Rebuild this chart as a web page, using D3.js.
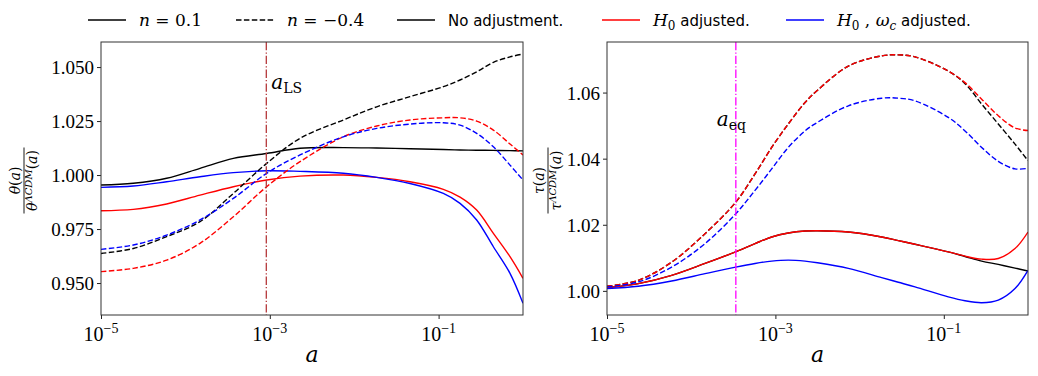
<!DOCTYPE html>
<html><head><meta charset="utf-8">
<script src="https://cdn.jsdelivr.net/npm/d3@7"></script>
<style>
body{margin:0;background:#fff;}
svg{display:block;}
</style></head>
<body>
<svg id="chart" width="1038" height="376"></svg>
<script>
// ---------- DATA ----------
// log10(a) sample positions
const logA_theta = [-5, -4.617, -4.222, -3.827, -3.432, -3.037, -2.642, -2.129, -1.733, -1.339, -0.944, -0.746, -0.549, -0.351, -0.154, 0];
// theta(a)/theta_LCDM(a)
const theta_n01_none = [0.9954, 0.9962, 0.9985, 1.0031, 1.0077, 1.0100, 1.0124, 1.0127, 1.0125, 1.0122, 1.0118, 1.0116, 1.0115, 1.0114, 1.0113, 1.0112];
const theta_n01_H0   = [0.9835, 0.9841, 0.9866, 0.9907, 0.9946, 0.9977, 0.9995, 1.0000, 0.9989, 0.9969, 0.9934, 0.9898, 0.9838, 0.9730, 0.9622, 0.9522];
const theta_n01_H0wc = [0.9943, 0.9949, 0.9969, 0.9992, 1.0011, 1.0020, 1.0017, 1.0008, 0.9989, 0.9961, 0.9915, 0.9869, 0.9792, 0.9668, 0.9545, 0.9406];
const theta_n04_none = [0.9637, 0.9660, 0.9715, 0.9784, 0.9915, 1.0054, 1.0170, 1.0255, 1.0316, 1.0363, 1.0409, 1.0440, 1.0478, 1.0522, 1.0547, 1.0560];
const theta_n04_H0   = [0.9553, 0.9568, 0.9606, 0.9684, 0.9807, 0.9946, 1.0062, 1.0177, 1.0227, 1.0255, 1.0265, 1.0265, 1.0250, 1.0208, 1.0144, 1.0093];
const theta_n04_H0wc = [0.9656, 0.9676, 0.9722, 0.9792, 0.9892, 1.0008, 1.0093, 1.0177, 1.0216, 1.0236, 1.0242, 1.0231, 1.0193, 1.0131, 1.0046, 0.9977];

const logA_tau = [-5, -4.628, -4.232, -3.836, -3.472, -3.242, -3.044, -2.847, -2.648, -2.5, -2.134, -1.738, -1.54, -1.342, -0.947, -0.748, -0.55, -0.353, -0.154, 0];
// tau(a)/tau_LCDM(a)
const tau_n01_none = [1.0010, 1.0022, 1.0047, 1.0083, 1.0118, 1.0143, 1.0163, 1.0175, 1.0181, 1.0182, 1.0178, 1.0163, 1.0152, 1.0141, 1.0118, 1.0104, 1.0090, 1.0080, 1.0069, 1.0060];
const tau_n01_H0   = [1.0010, 1.0022, 1.0047, 1.0083, 1.0118, 1.0143, 1.0163, 1.0175, 1.0181, 1.0182, 1.0178, 1.0163, 1.0152, 1.0141, 1.0118, 1.0105, 1.0096, 1.0098, 1.0128, 1.0178];
const tau_n01_H0wc = [1.0007, 1.0014, 1.0030, 1.0052, 1.0072, 1.0083, 1.0090, 1.0093, 1.0090, 1.0085, 1.0068, 1.0040, 1.0026, 1.0012, 0.9982, 0.9970, 0.9964, 0.9972, 1.0007, 1.0062];
const tau_n04_none = [1.0014, 1.0032, 1.0087, 1.0173, 1.0268, 1.0354, 1.0434, 1.0505, 1.0570, 1.0607, 1.0680, 1.0711, 1.0714, 1.0708, 1.0665, 1.0627, 1.0565, 1.0505, 1.0444, 1.0394];
const tau_n04_H0   = [1.0014, 1.0032, 1.0087, 1.0173, 1.0268, 1.0354, 1.0434, 1.0505, 1.0570, 1.0607, 1.0680, 1.0711, 1.0714, 1.0708, 1.0665, 1.0630, 1.0580, 1.0530, 1.0493, 1.0485];
const tau_n04_H0wc = [1.0012, 1.0027, 1.0072, 1.0143, 1.0233, 1.0304, 1.0369, 1.0434, 1.0484, 1.0510, 1.0560, 1.0583, 1.0583, 1.0575, 1.0525, 1.0484, 1.0434, 1.0392, 1.0369, 1.0371];

const xTicks = [1e-5, 1e-3, 1e-1];
const xTickExp = ["−5", "−3", "−1"];
const thetaTicks = [0.950, 0.975, 1.000, 1.025, 1.050];
const tauTicks = [1.00, 1.02, 1.04, 1.06];
const aLS = 1 / 1100;
const aEq = 1 / 2950;

const legendItems = [
  {label: "n01", color: "#000", dash: null},
  {label: "n04", color: "#000", dash: "5.5,2.4"},
  {label: "No adjustment.", color: "#000", dash: null},
  {label: "H0", color: "#ff0000", dash: null},
  {label: "H0wc", color: "#0000ff", dash: null}
];

// ---------- DRAW ----------
const svg = d3.select("#chart");
const serif = '"DejaVu Serif","Liberation Serif",serif';
const tickFont = '"Liberation Serif","DejaVu Serif",serif';
const sans = '"DejaVu Sans",sans-serif';
const DASH = "5.5,2.4";

function panel(cfg) {
  const x = d3.scaleLog().domain([1e-5, 1]).range([cfg.x0, cfg.x1]);
  const y = d3.scaleLinear().domain(cfg.yDomain).range([cfg.y1, cfg.y0]);
  const g = svg.append("g");
  const line = d3.line().x(d => x(Math.pow(10, d[0]))).y(d => y(d[1])).curve(d3.curveCatmullRom.alpha(0.5));
  const clipId = "clip" + cfg.id;
  svg.append("clipPath").attr("id", clipId).append("rect")
    .attr("x", cfg.x0).attr("y", cfg.y0).attr("width", cfg.x1 - cfg.x0).attr("height", cfg.y1 - cfg.y0);
  const plot = g.append("g").attr("clip-path", `url(#${clipId})`);
  cfg.series.forEach(s => {
    plot.append("path").datum(cfg.logA.map((l, i) => [l, s.values[i]]))
      .attr("d", line).attr("fill", "none").attr("stroke", s.color)
      .attr("stroke-width", 1.4).attr("stroke-dasharray", s.dash ? DASH : null);
  });
  // vertical marker
  plot.append("line").attr("x1", x(cfg.vline)).attr("x2", x(cfg.vline))
    .attr("y1", cfg.y0).attr("y2", cfg.y1).attr("stroke", cfg.vcolor).attr("stroke-width", 1.3)
    .attr("stroke-dasharray", "8.3,2.1,1.3,2.1");
  const vt = g.append("text").attr("x", x(cfg.vline) + cfg.vdx).attr("y", cfg.vy)
    .attr("font-family", serif).attr("font-size", 20);
  vt.append("tspan").attr("font-style", "italic").text("a");
  vt.append("tspan").attr("font-size", 14).attr("dy", 4).text(cfg.vsub);

  // axes
  const xa = d3.axisBottom(x).tickValues(xTicks).tickSize(4).tickFormat("");
  const xg = g.append("g").attr("transform", `translate(0,${cfg.y1})`).call(xa);
  xg.select(".domain").remove();
  xg.selectAll("line").attr("stroke", "#222");
  xTicks.forEach((t, i) => {
    const tx = g.append("text").attr("x", x(t)).attr("y", cfg.y1 + 26).attr("text-anchor", "middle")
      .attr("font-family", tickFont).attr("font-size", 20);
    tx.append("tspan").text("10");
    tx.append("tspan").attr("font-size", 14).attr("dy", -8).text(xTickExp[i]);
  });
  const ya = d3.axisLeft(y).tickValues(cfg.yTicks).tickSize(4).tickFormat(d3.format(cfg.yFmt));
  const yg = g.append("g").attr("transform", `translate(${cfg.x0},0)`).call(ya);
  yg.select(".domain").remove();
  yg.selectAll("line").attr("stroke", "#222");
  yg.selectAll("text").attr("font-family", tickFont).attr("font-size", 19).attr("fill", "#000").attr("dy", "0.36em").attr("x", -7);
  g.append("rect").attr("x", cfg.x0).attr("y", cfg.y0).attr("width", cfg.x1 - cfg.x0).attr("height", cfg.y1 - cfg.y0)
    .attr("fill", "none").attr("stroke", "#333").attr("stroke-width", 1);
  // x label
  g.append("text").attr("x", (cfg.x0 + cfg.x1) / 2).attr("y", 362).attr("text-anchor", "middle")
    .attr("font-family", serif).attr("font-style", "italic").attr("font-size", 22).text("a");
  // y label fraction
  const yl = g.append("g").attr("transform", `translate(${cfg.ylx},${(cfg.y0 + cfg.y1) / 2 + 2}) rotate(-90)`);
  const num = yl.append("text").attr("x", 0).attr("y", -4).attr("text-anchor", "middle")
    .attr("font-family", serif).attr("font-size", 14);
  num.append("tspan").attr("font-style", "italic").text(cfg.sym);
  num.append("tspan").text("(");
  num.append("tspan").attr("font-style", "italic").text("a");
  num.append("tspan").text(")");
  yl.append("line").attr("x1", -33).attr("x2", 33).attr("y1", 0).attr("y2", 0).attr("stroke", "#000").attr("stroke-width", 0.9);
  const den = yl.append("text").attr("x", 0).attr("y", 13).attr("text-anchor", "middle")
    .attr("font-family", serif).attr("font-size", 14);
  den.append("tspan").attr("font-style", "italic").text(cfg.sym);
  den.append("tspan").attr("font-style", "italic").attr("font-size", 10).attr("dy", -5).text("ΛCDM");
  den.append("tspan").attr("dy", 5).text("(");
  den.append("tspan").attr("font-style", "italic").text("a");
  den.append("tspan").text(")");
}

panel({
  id: "L", x0: 101, x1: 523, y0: 42, y1: 315, yDomain: [0.9352, 1.0616], yTicks: thetaTicks, yFmt: ".3f",
  logA: logA_theta, vline: aLS, vcolor: "#b5383a", vdx: 5, vy: 89, vsub: "LS", ylx: 24, sym: "θ",
  series: [
    {values: theta_n01_none, color: "#000", dash: false},
    {values: theta_n01_H0, color: "#ff0000", dash: false},
    {values: theta_n01_H0wc, color: "#0000ff", dash: false},
    {values: theta_n04_none, color: "#000", dash: true},
    {values: theta_n04_H0, color: "#ff0000", dash: true},
    {values: theta_n04_H0wc, color: "#0000ff", dash: true}
  ]
});
panel({
  id: "R", x0: 607, x1: 1028, y0: 42, y1: 315, yDomain: [0.9927, 1.0753], yTicks: tauTicks, yFmt: ".2f",
  logA: logA_tau, vline: aEq, vcolor: "#ff00ff", vdx: -19, vy: 126, vsub: "eq", ylx: 548, sym: "τ",
  series: [
    {values: tau_n01_none, color: "#000", dash: false},
    {values: tau_n01_H0, color: "#ff0000", dash: false},
    {values: tau_n01_H0wc, color: "#0000ff", dash: false},
    {values: tau_n04_none, color: "#000", dash: true},
    {values: tau_n04_H0, color: "#ff0000", dash: true},
    {values: tau_n04_H0wc, color: "#0000ff", dash: true}
  ]
});

// legend
const legX = [88, 236, 397, 602, 786];
const lg = svg.append("g");
legendItems.forEach((it, i) => {
  const lx = legX[i];
  lg.append("line").attr("x1", lx).attr("x2", lx + 38).attr("y1", 20).attr("y2", 20)
    .attr("stroke", it.color).attr("stroke-width", 1.4).attr("stroke-dasharray", it.dash);
  const t = lg.append("text").attr("x", lx + 51).attr("y", 26).attr("font-size", 17);
  if (it.label === "n01" || it.label === "n04") {
    t.attr("font-family", serif);
    t.append("tspan").attr("font-style", "italic").text("n");
    t.append("tspan").text(it.label === "n01" ? " = 0.1" : " = −0.4");
  } else if (it.label === "H0" || it.label === "H0wc") {
    t.attr("font-family", serif);
    t.append("tspan").attr("font-style", "italic").text("H");
    t.append("tspan").attr("font-size", 12).attr("dy", 4).text("0");
    if (it.label === "H0wc") {
      t.append("tspan").attr("dy", -4).text(" , ");
      t.append("tspan").attr("font-style", "italic").text("ω");
      t.append("tspan").attr("font-style", "italic").attr("font-size", 12).attr("dy", 4).text("c");
    }
    t.append("tspan").attr("font-family", sans).attr("font-size", 15).attr("dy", -4).text(" adjusted.");
  } else {
    t.attr("font-family", sans).attr("font-size", 15).text(it.label);
  }
});
</script>
</body></html>
